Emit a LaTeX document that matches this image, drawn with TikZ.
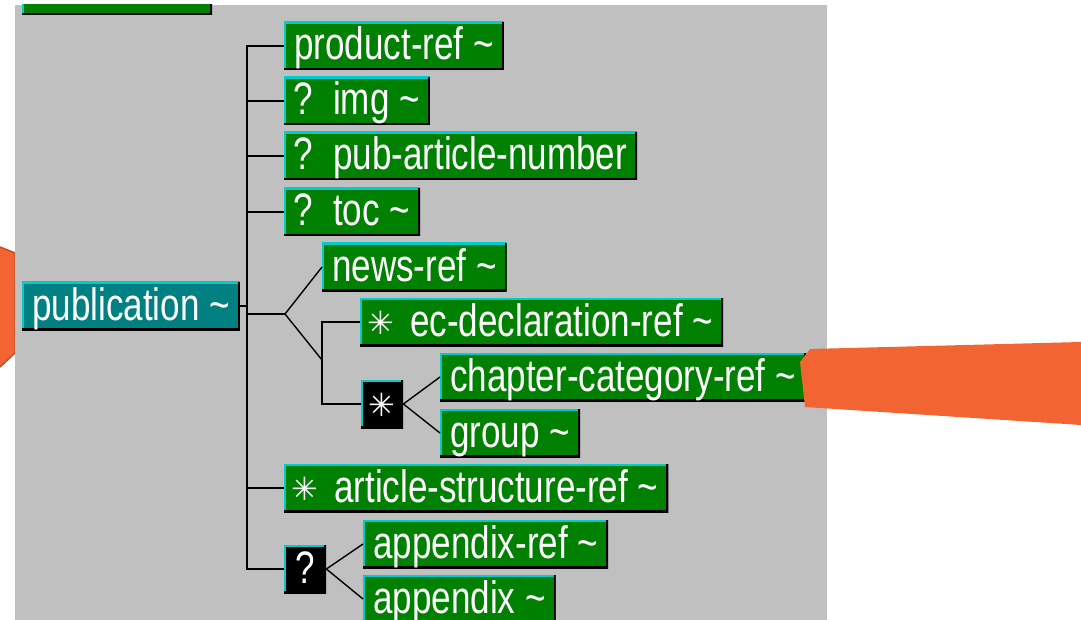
\documentclass[tikz,border=0pt]{standalone}
\usepackage{fontspec}
\setmainfont{Liberation Sans}
\newfontfamily\elfont{Liberation Sans}[FakeStretch=0.77]
\newfontfamily\symfont{DejaVu Sans}
\usetikzlibrary{calc}

\definecolor{panelgray}{RGB}{192,192,192}
\definecolor{elgreen}{RGB}{0,128,0}
\definecolor{elteal}{RGB}{0,128,128}
\definecolor{elcyan}{RGB}{0,204,204}
\definecolor{callout}{RGB}{242,101,50}
\definecolor{calloutdark}{RGB}{196,78,36}

\newcommand{\optmark}{\makebox[19pt]{?}\hspace{20pt}}
\newcommand{\starglyph}{{\symfont\fontsize{32}{32}\selectfont ✳}}
\newcommand{\repmark}{\makebox[22pt]{\raisebox{2pt}{\starglyph}}\hspace{18pt}}

\tikzset{
  elem/.style={fill=elgreen, text=white, anchor=west, minimum height=48pt,
    inner xsep=10pt, inner ysep=0pt, text height=34pt, text depth=6pt,
    font=\elfont\fontsize{45.5}{50}\selectfont,
    path picture={
      \draw[elcyan, line width=4pt] (path picture bounding box.south west) |- (path picture bounding box.north east);
      \draw[black, line width=4pt] (path picture bounding box.north east) |- (path picture bounding box.south west);
    }},
  rootelem/.style={elem, fill=elteal},
  seqbox/.style={elem, fill=black, minimum width=42pt, inner xsep=0pt},
  wire/.style={line width=2pt},
  fan/.style={line width=1.4pt},
}

\begin{document}
\begin{tikzpicture}[x=1pt,y=-1pt]
  \useasboundingbox (0,0) rectangle (1081,620);
  % left callout, mostly hidden behind the panel
  \filldraw[fill=callout, draw=calloutdark, line width=1.5pt] (0,247) -- (15,253) -- (15,353) -- (0,367);
  \fill[panelgray] (15,5) rectangle (827,620);

  \begin{scope}
  \clip (15,5) rectangle (827,620);
  \node[elem, minimum width=190pt, minimum height=30pt, text height=0pt, text depth=0pt] (prev) at (22,0) {};

  \node[rootelem] (publication) at (22,306) {publication \textasciitilde};
  \node[elem] (prodref) at (284,46) {product-ref \textasciitilde};
  \node[elem] (img) at (284,101) {\optmark img \textasciitilde};
  \node[elem] (pubnum) at (284,156) {\optmark pub-article-number};
  \node[elem] (toc) at (284,212) {\optmark toc \textasciitilde};
  \node[elem] (newsref) at (322,267) {news-ref \textasciitilde};
  \node[elem] (ecdecl) at (360,322) {\repmark ec-declaration-ref \textasciitilde};
  \node[seqbox] (repbox) at (361,404) {\raisebox{2pt}{\starglyph}};
  \node[elem] (chapcat) at (440,377) {chapter-category-ref \textasciitilde};
  \node[elem] (group) at (440,433) {group \textasciitilde};
  \node[elem] (artstruct) at (284,488) {\repmark article-structure-ref \textasciitilde};
  \node[seqbox] (optbox) at (284,569) {?};
  \node[elem] (appref) at (363,544) {appendix-ref \textasciitilde};
  \node[elem] (appendix) at (363,599) {appendix \textasciitilde};

  % trunk and its branches
  \coordinate (trunk) at ($(prodref.west)+(-37,0)$);
  \draw[wire] (prodref.west) -- (trunk) |- (optbox.west);
  \foreach \n in {img,pubnum,toc,artstruct}
    \draw[wire] (\n.west) -- (\n.west -| trunk);
  \draw[wire] (publication.east) -- (publication.east -| trunk);

  % choice
  \coordinate (fork) at (285,314);
  \coordinate (seqjoin) at (322,360);
  \draw[wire] (trunk |- fork) -- (fork);
  \draw[fan] (newsref.west) -- (fork) -- (seqjoin);
  \draw[wire] (ecdecl.west) -| (seqjoin) |- (repbox.west);
  \draw[fan] (chapcat.west) -- (repbox.east) -- (group.west);
  \draw[fan] (appref.west) -- (optbox.east) -- (appendix.west);
  \end{scope}

  % right callout
  \fill[callout] (800,362) -- (810,349) -- (1081,342) -- (1081,425) -- (805,407) -- cycle;
\end{tikzpicture}
\end{document}
